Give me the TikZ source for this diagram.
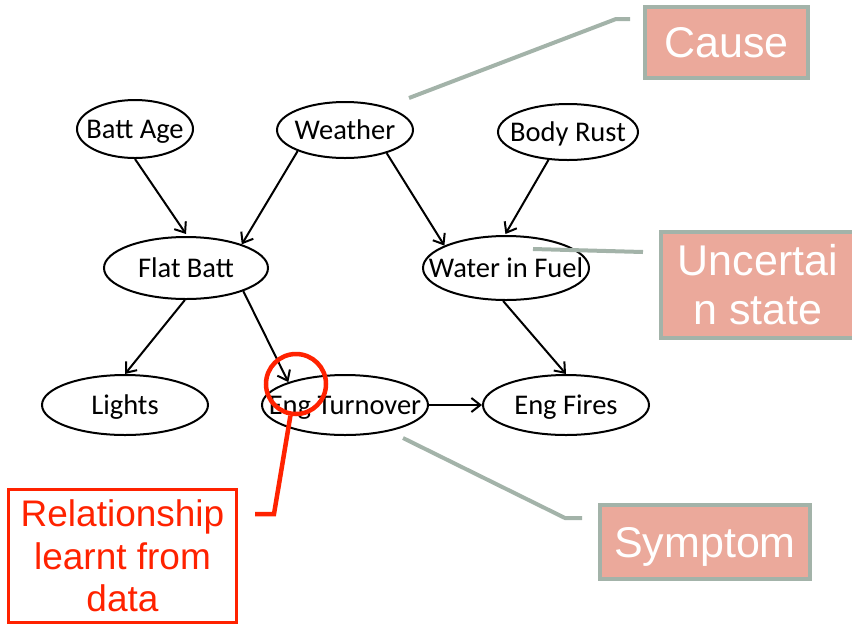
\documentclass[tikz,border=0pt]{standalone}
\usepackage{fontspec}
\setmainfont{Carlito}
\newfontfamily\arialf{Liberation Sans}
\usetikzlibrary{shapes.geometric,arrows.meta,calc}
\definecolor{salmon}{HTML}{EBA99B}
\definecolor{calgray}{HTML}{A3B3A9}
\definecolor{hired}{HTML}{FF2200}
\begin{document}
\begin{tikzpicture}[x=1pt,y=-1pt,
  var/.style={ellipse,draw=black,line width=2pt,inner sep=0pt,
    minimum width=166pt,minimum height=60pt,text height=20pt,text depth=1pt,
    font=\fontsize{28.5}{30}\selectfont},
  arr/.style={line width=2pt,-{Straight Barb[length=9pt,width=14pt]}},
  callbox/.style={draw=calgray,line width=4pt,fill=salmon,text=white,
    font=\arialf\fontsize{43}{47}\selectfont,inner sep=0pt,align=center},
  callline/.style={draw=calgray,line width=4pt},
  redline/.style={draw=hired,line width=4.5pt}]
\useasboundingbox (0,0) rectangle (852,625);

% variables
\node[var,minimum width=116pt,minimum height=58pt] (ba) at (135,129) {\makebox[0pt]{Batt Age}};
\node[var,minimum width=136pt,minimum height=56pt] (w) at (345,130) {\makebox[0pt]{Weather}};
\node[var,minimum width=140pt,minimum height=56pt] (br) at (568,132) {\makebox[0pt]{Body Rust}};
\node[var,minimum width=164pt,minimum height=62pt] (fb) at (186,268) {\makebox[0pt]{Flat Batt}};
\node[var,minimum width=166pt,minimum height=64pt] (wf) at (506,268) {\makebox[0pt]{Water in Fuel}};
\node[var] (li) at (125,405) {\makebox[0pt]{Lights}};
\node[var] (et) at (345,405) {\makebox[0pt]{Eng Turnover}};
\node[var] (ef) at (566,405) {\makebox[0pt]{Eng Fires}};

% arrows
\draw[arr] (ba.south) -- ([yshift=2pt]fb.north);
\draw[arr] (w.204) -- (fb.23);
\draw[arr] (w.331) -- (wf.160);
\draw[arr] (br.235) -- ([yshift=1pt]wf.91);
\draw[arr] (fb.268) -- (li.north);
\draw[arr] (fb.338) -- (et.158);
\draw[arr] (wf.265) -- (ef.north);
\draw[arr] (et.east) -- (ef.west);

% callouts
\node[callbox,minimum width=163pt,minimum height=71pt] (cause) at (726.5,42.5) {Cause};
\node[callbox,minimum width=194pt,minimum height=106pt] (unc) at (758,285) {Uncertai\\[2pt]n state};
\node[callbox,minimum width=210pt,minimum height=74pt,text depth=0pt] (sym) at (705,542) {Symptom};

\coordinate (c1) at (409,98);
\coordinate (c1k) at (616,19);
\coordinate (c1e) at (630,19);
\draw[callline] (c1) -- (c1k) -- (c1e);

\coordinate (u1) at (533,249);
\coordinate (u1e) at (643,252);
\draw[callline] (u1) -- (u1e);

\coordinate (s1) at (403,438);
\coordinate (s1k) at (565,518);
\coordinate (s1e) at (582,518);
\draw[callline] (s1) -- (s1k) -- (s1e);

% red annotation
\node[draw=hired,line width=4.5pt,circle,minimum size=60pt,inner sep=0pt] (rc) at (296,384) {};
\node[draw=hired,line width=3pt,text=hired,inner sep=0pt,
  minimum width=228pt,minimum height=133pt,align=center,
  font=\arialf\fontsize{37}{42.5}\selectfont] (rel) at (122.5,556)
  {Relationship\\learnt from\\data};
\coordinate (rk) at (274,514);
\coordinate (re) at (255,514);
\draw[redline] (rc.260) -- (rk) -- (re);
\end{tikzpicture}
\end{document}
